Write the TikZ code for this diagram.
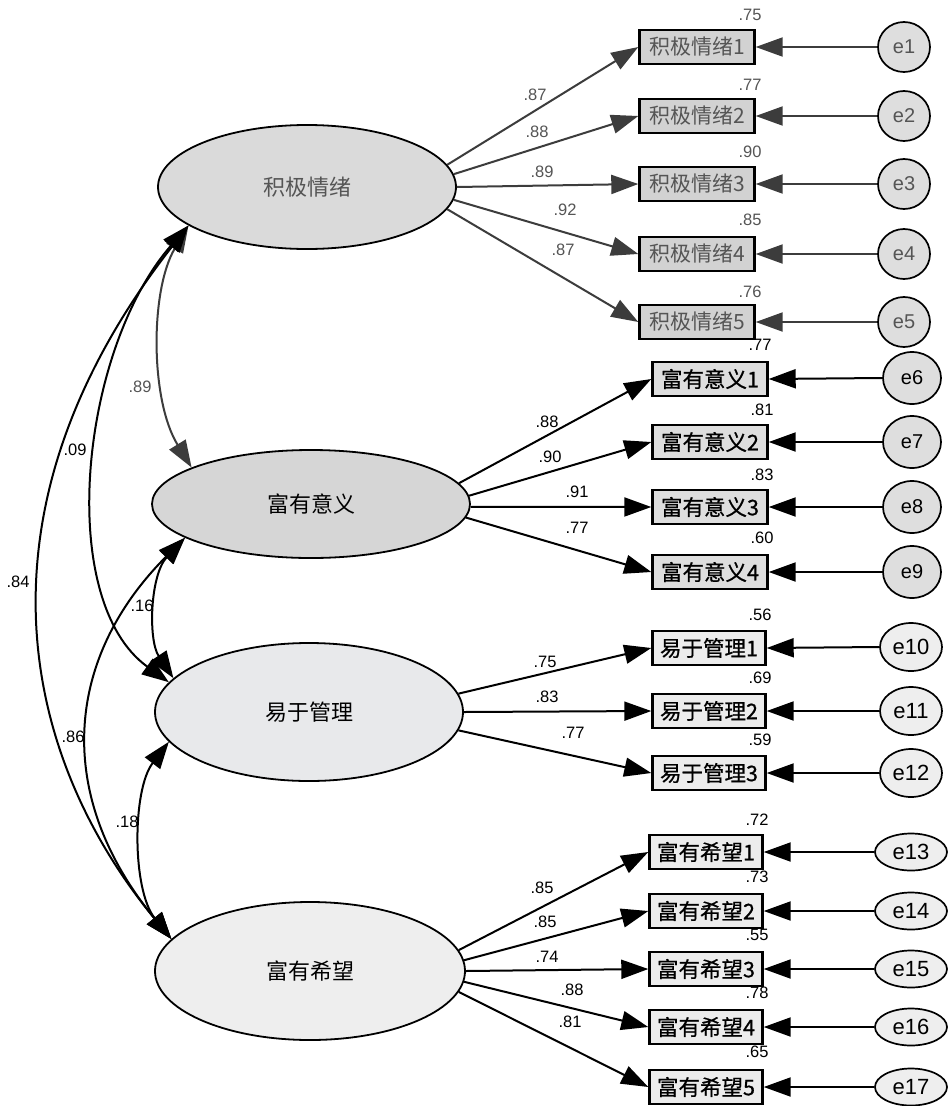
\documentclass[tikz,border=0pt]{standalone}
\usepackage{fontspec}
\setmainfont{Liberation Sans}
\newfontfamily\cjk{Noto Sans CJK SC}
\newfontfamily\cjkb[FakeBold=0.8]{Noto Sans CJK SC}
\usetikzlibrary{shapes.geometric,arrows.meta}
\definecolor{fA}{RGB}{218,218,218}
\definecolor{fB}{RGB}{214,214,214}
\definecolor{fC}{RGB}{232,233,235}
\definecolor{fD}{RGB}{238,238,238}
\definecolor{bA}{RGB}{210,210,210}
\definecolor{bB}{RGB}{222,222,222}
\definecolor{bC}{RGB}{236,236,236}
\definecolor{eA}{RGB}{222,222,222}
\definecolor{eC}{RGB}{238,238,238}
\definecolor{tA}{RGB}{85,85,85}
\definecolor{lA}{RGB}{60,60,60}
\begin{document}
\begin{tikzpicture}[x=1pt,y=-1pt,
 lat/.style={ellipse,draw,line width=1.8pt,inner sep=0pt,font=\cjk\fontsize{22}{24}\selectfont},
 obs/.style={rectangle,draw,line width=2.4pt,minimum width=113pt,minimum height=34pt,inner sep=0pt,font=\cjkb\fontsize{21.5}{23}\selectfont},
 err/.style={ellipse,draw,line width=1.7pt,inner sep=0pt,font=\fontsize{20}{22}\selectfont},
 num/.style={font=\fontsize{16.5}{18}\selectfont,inner sep=0pt},
 tip/.tip={Triangle[length=27pt,width=19pt]},
 arr/.style={line width=2pt,-tip},
 cov/.style={line width=2pt,tip-tip},
]
\useasboundingbox[fill=white] (0,0) rectangle (948,1106);

% latent variables
\node[lat,fill=fA,text=tA,minimum width=298pt,minimum height=124pt] (F1) at (307,187) {积极情绪};
\node[lat,fill=fB,minimum width=318pt,minimum height=108pt] (F2) at (311,504) {富有意义};
\node[lat,fill=fC,minimum width=308pt,minimum height=138pt] (F3) at (309,712) {易于管理};
\node[lat,fill=fD,minimum width=310pt,minimum height=138pt] (F4) at (310,971) {富有希望};

% group 1
\begin{scope}[every node/.append style={text=tA}]
\node[obs,fill=bA,minimum width=115pt,font=\cjk\fontsize{21}{23}\selectfont] (a1) at (697,47) {积极情绪1};
\node[obs,fill=bA,minimum width=115pt,font=\cjk\fontsize{21}{23}\selectfont] (a2) at (697,116) {积极情绪2};
\node[obs,fill=bA,minimum width=115pt,font=\cjk\fontsize{21}{23}\selectfont] (a3) at (697,184) {积极情绪3};
\node[obs,fill=bA,minimum width=115pt,font=\cjk\fontsize{21}{23}\selectfont] (a4) at (697,254) {积极情绪4};
\node[obs,fill=bA,minimum width=115pt,font=\cjk\fontsize{21}{23}\selectfont] (a5) at (697,322) {积极情绪5};
\node[err,fill=eA,minimum width=52pt,minimum height=50pt] (e1) at (904,47) {e1};
\node[err,fill=eA,minimum width=52pt,minimum height=50pt] (e2) at (904,116) {e2};
\node[err,fill=eA,minimum width=52pt,minimum height=50pt] (e3) at (904,184) {e3};
\node[err,fill=eA,minimum width=52pt,minimum height=50pt] (e4) at (904,254) {e4};
\node[err,fill=eA,minimum width=52pt,minimum height=50pt] (e5) at (904,322) {e5};
\end{scope}

% group 2
\node[obs,fill=bB,minimum width=115pt] (b1) at (710,379) {富有意义1};
\node[obs,fill=bB,minimum width=115pt] (b2) at (710,442) {富有意义2};
\node[obs,fill=bB,minimum width=115pt] (b3) at (710,507) {富有意义3};
\node[obs,fill=bB,minimum width=115pt] (b4) at (710,572) {富有意义4};
\node[err,fill=eA,minimum width=58pt,minimum height=52pt] (e6) at (912,378) {e6};
\node[err,fill=eA,minimum width=58pt,minimum height=52pt] (e7) at (912,442) {e7};
\node[err,fill=eA,minimum width=58pt,minimum height=52pt] (e8) at (912,507) {e8};
\node[err,fill=eA,minimum width=58pt,minimum height=52pt] (e9) at (912,572) {e9};

% group 3
\node[obs,fill=bC] (c1) at (709,648) {易于管理1};
\node[obs,fill=bC] (c2) at (709,711) {易于管理2};
\node[obs,fill=bC] (c3) at (709,773) {易于管理3};
\node[err,fill=eC,minimum width=62pt,minimum height=48pt,font=\fontsize{22}{24}\selectfont] (e10) at (911,647) {e10};
\node[err,fill=eC,minimum width=62pt,minimum height=48pt,font=\fontsize{22}{24}\selectfont] (e11) at (911,711) {e11};
\node[err,fill=eC,minimum width=62pt,minimum height=48pt,font=\fontsize{22}{24}\selectfont] (e12) at (911,773) {e12};

% group 4
\node[obs,fill=bC] (d1) at (706,852) {富有希望1};
\node[obs,fill=bC] (d2) at (706,911) {富有希望2};
\node[obs,fill=bC] (d3) at (706,969) {富有希望3};
\node[obs,fill=bC] (d4) at (706,1027) {富有希望4};
\node[obs,fill=bC] (d5) at (706,1087) {富有希望5};
\node[err,fill=eC,minimum width=72pt,minimum height=37pt,font=\fontsize{22}{24}\selectfont] (e13) at (911,852) {e13};
\node[err,fill=eC,minimum width=72pt,minimum height=37pt,font=\fontsize{22}{24}\selectfont] (e14) at (911,911) {e14};
\node[err,fill=eC,minimum width=72pt,minimum height=37pt,font=\fontsize{22}{24}\selectfont] (e15) at (911,969) {e15};
\node[err,fill=eC,minimum width=72pt,minimum height=37pt,font=\fontsize{22}{24}\selectfont] (e16) at (911,1027) {e16};
\node[err,fill=eC,minimum width=72pt,minimum height=37pt,font=\fontsize{22}{24}\selectfont] (e17) at (911,1087) {e17};

% loadings
\begin{scope}[draw=lA,fill=lA]
\draw[arr] (F1.9) -- (a1.west);
\draw[arr] (F1.5) -- (a2.west);
\draw[arr] (F1.0) -- (a3.west);
\draw[arr] (F1.-5) -- (a4.west);
\draw[arr] (F1.-9) -- (a5.west);
\foreach \i in {1,...,5}{\draw[arr] (e\i.west) -- (a\i.east);}
\end{scope}
\draw[arr] (F2.8) -- (b1.west);
\draw[arr] (F2.3) -- (b2.west);
\draw[arr] (F2.-1) -- (b3.west);
\draw[arr] (F2.-5) -- (b4.west);
\draw[arr] (F3.7) -- (c1.west);
\draw[arr] (F3.0) -- (c2.west);
\draw[arr] (F3.-7) -- (c3.west);
\draw[arr] (F4.8) -- (d1.west);
\draw[arr] (F4.4) -- (d2.west);
\draw[arr] (F4.0) -- (d3.west);
\draw[arr] (F4.-4) -- (d4.west);
\draw[arr] (F4.-8) -- (d5.west);
\draw[arr] (e6.west) -- (b1.east);
\draw[arr] (e7.west) -- (b2.east);
\draw[arr] (e8.west) -- (b3.east);
\draw[arr] (e9.west) -- (b4.east);
\draw[arr] (e10.west) -- (c1.east);
\draw[arr] (e11.west) -- (c2.east);
\draw[arr] (e12.west) -- (c3.east);
\draw[arr] (e13.west) -- (d1.east);
\draw[arr] (e14.west) -- (d2.east);
\draw[arr] (e15.west) -- (d3.east);
\draw[arr] (e16.west) -- (d4.east);
\draw[arr] (e17.west) -- (d5.east);

% covariances
\draw[cov,draw=lA] (F1.198) .. controls (150,290) and (150,400) .. (F2.163);
\draw[cov] (F1.198) .. controls (80,350) and (55,600) .. (F3.168);
\draw[cov] (F1.198) .. controls (-33,509) and (20,755) .. (F4.167);
\draw[cov] (F2.195) .. controls (150,575) and (148,640) .. (F3.166);
\draw[cov] (F2.195) .. controls (64,659) and (54,796) .. (F4.167);
\draw[cov] (F3.192) .. controls (132,790) and (132,890) .. (F4.167);

% covariance labels
\node[num,text=tA] (k1) at (140,387) {.89};
\node[num] (k2) at (75,450) {.09};
\node[num] (k3) at (18,582) {.84};
\node[num] (k4) at (142,606) {.16};
\node[num] (k5) at (73,737) {.86};
\node[num] (k6) at (127,822) {.18};

% loading labels
\begin{scope}[every node/.append style={text=tA}]
\node[num] (l1) at (535,95) {.87};
\node[num] (l2) at (537,132) {.88};
\node[num] (l3) at (542,172) {.89};
\node[num] (l4) at (565,210) {.92};
\node[num] (l5) at (563,250) {.87};
\node[num] (r1) at (750,15) {.75};
\node[num] (r2) at (750,85) {.77};
\node[num] (r3) at (750,152) {.90};
\node[num] (r4) at (750,220) {.85};
\node[num] (r5) at (750,292) {.76};
\end{scope}
\node[num] (l6) at (547,422) {.88};
\node[num] (l7) at (550,457) {.90};
\node[num] (l8) at (577,492) {.91};
\node[num] (l9) at (577,528) {.77};
\node[num] (r6) at (760,345) {.77};
\node[num] (r7) at (762,410) {.81};
\node[num] (r8) at (762,475) {.83};
\node[num] (r9) at (762,538) {.60};
\node[num] (l10) at (545,662) {.75};
\node[num] (l11) at (547,697) {.83};
\node[num] (l12) at (573,733) {.77};
\node[num] (r10) at (760,615) {.56};
\node[num] (r11) at (760,678) {.69};
\node[num] (r12) at (760,740) {.59};
\node[num] (l13) at (542,888) {.85};
\node[num] (l14) at (545,922) {.85};
\node[num] (l15) at (547,957) {.74};
\node[num] (l16) at (572,990) {.88};
\node[num] (l17) at (570,1022) {.81};
\node[num] (r13) at (757,820) {.72};
\node[num] (r14) at (757,877) {.73};
\node[num] (r15) at (757,935) {.55};
\node[num] (r16) at (757,993) {.78};
\node[num] (r17) at (757,1052) {.65};
\end{tikzpicture}
\end{document}
